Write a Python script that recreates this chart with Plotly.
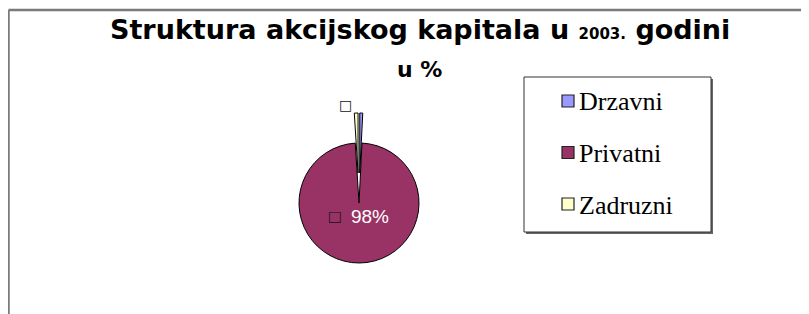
import plotly.graph_objects as go

categories = ["Drzavni", "Privatni", "Zadruzni"]
values = [0.8, 98.2, 1.0]
colors = ["#9999FF", "#993366", "#FFFFCC"]
pulls = [0.5, 0.0, 0.5]

# the page body has an 8px margin, so figure coords = screen coords - 8
W, H = 809, 314
OFF = 8
total = sum(values)
pct = [round(v / total * 100) for v in values]
texts = ["",
         "<span style='color:#111111'>□</span>&nbsp;&nbsp;%d%%<br>&nbsp;" % pct[1],
         "□"]


def px(x):
    return (x - OFF) / W


def py(y):
    return 1 - (y - OFF) / H


cx, cy, half = 359, 203, 90
fig = go.Figure()
fig.add_trace(go.Pie(
    labels=categories, values=values, sort=False, direction="clockwise", rotation=0,
    marker=dict(colors=colors, line=dict(color="#000000", width=1)),
    pull=pulls, text=texts, textinfo="text",
    textposition=["inside", "inside", "outside"],
    insidetextorientation="horizontal",
    insidetextfont=dict(color="white", size=19, family="Liberation Sans"),
    outsidetextfont=dict(color="#111111", size=14, family="DejaVu Sans"),
    domain=dict(x=[px(cx - half), px(cx + half)], y=[py(cy + half), py(cy - half)]),
    showlegend=False, hoverinfo="label+percent",
))

shapes = []
ann = []
# outer frame
shapes.append(dict(type="line", xref="paper", yref="paper", x0=0.5 / W, x1=1, y0=1 - 2 / H, y1=1 - 2 / H,
                   line=dict(color="#7a7a7a", width=2.5)))
shapes.append(dict(type="line", xref="paper", yref="paper", x0=0.5 / W, x1=0.5 / W, y0=0, y1=1 - 2 / H,
                   line=dict(color="#7a7a7a", width=2.5)))
# legend box with shadow
shapes.append(dict(type="rect", xref="paper", yref="paper", x0=px(526), x1=px(713), y0=py(234), y1=py(79),
                   fillcolor="#666666", line=dict(width=0)))
shapes.append(dict(type="rect", xref="paper", yref="paper", x0=px(524), x1=px(711), y0=py(232), y1=py(77),
                   fillcolor="white", line=dict(color="#333333", width=1)))
for i, (c, col) in enumerate(zip(categories, colors)):
    yc = 101 + i * 51.5
    shapes.append(dict(type="rect", xref="paper", yref="paper", x0=px(562), x1=px(574),
                       y0=py(yc + 6), y1=py(yc - 6),
                       fillcolor=col, line=dict(color="#222222", width=1.2)))
    ann.append(dict(x=px(577), y=py(yc + 1), xref="paper", yref="paper", text=c, showarrow=False,
                    xanchor="left", yanchor="middle",
                    font=dict(family="Liberation Serif", size=26, color="#000000")))

ann.append(dict(x=px(420), y=py(30), xref="paper", yref="paper",
                text="<b>Struktura akcijskog kapitala u <span style='font-size:15px'>2003.</span> godini</b>",
                showarrow=False, xanchor="center", yanchor="middle",
                font=dict(family="DejaVu Sans", size=27, color="#000000")))
ann.append(dict(x=px(419), y=py(69), xref="paper", yref="paper",
                text="<b>u %</b>", showarrow=False, xanchor="center", yanchor="middle",
                font=dict(family="DejaVu Sans", size=22, color="#000000")))

fig.update_layout(width=W, height=H, margin=dict(l=0, r=0, t=0, b=0, pad=0, autoexpand=False),
                  showlegend=False,
                  paper_bgcolor="white", plot_bgcolor="white",
                  shapes=shapes, annotations=ann)

fig.write_html("out.html", config={"displayModeBar": False})
